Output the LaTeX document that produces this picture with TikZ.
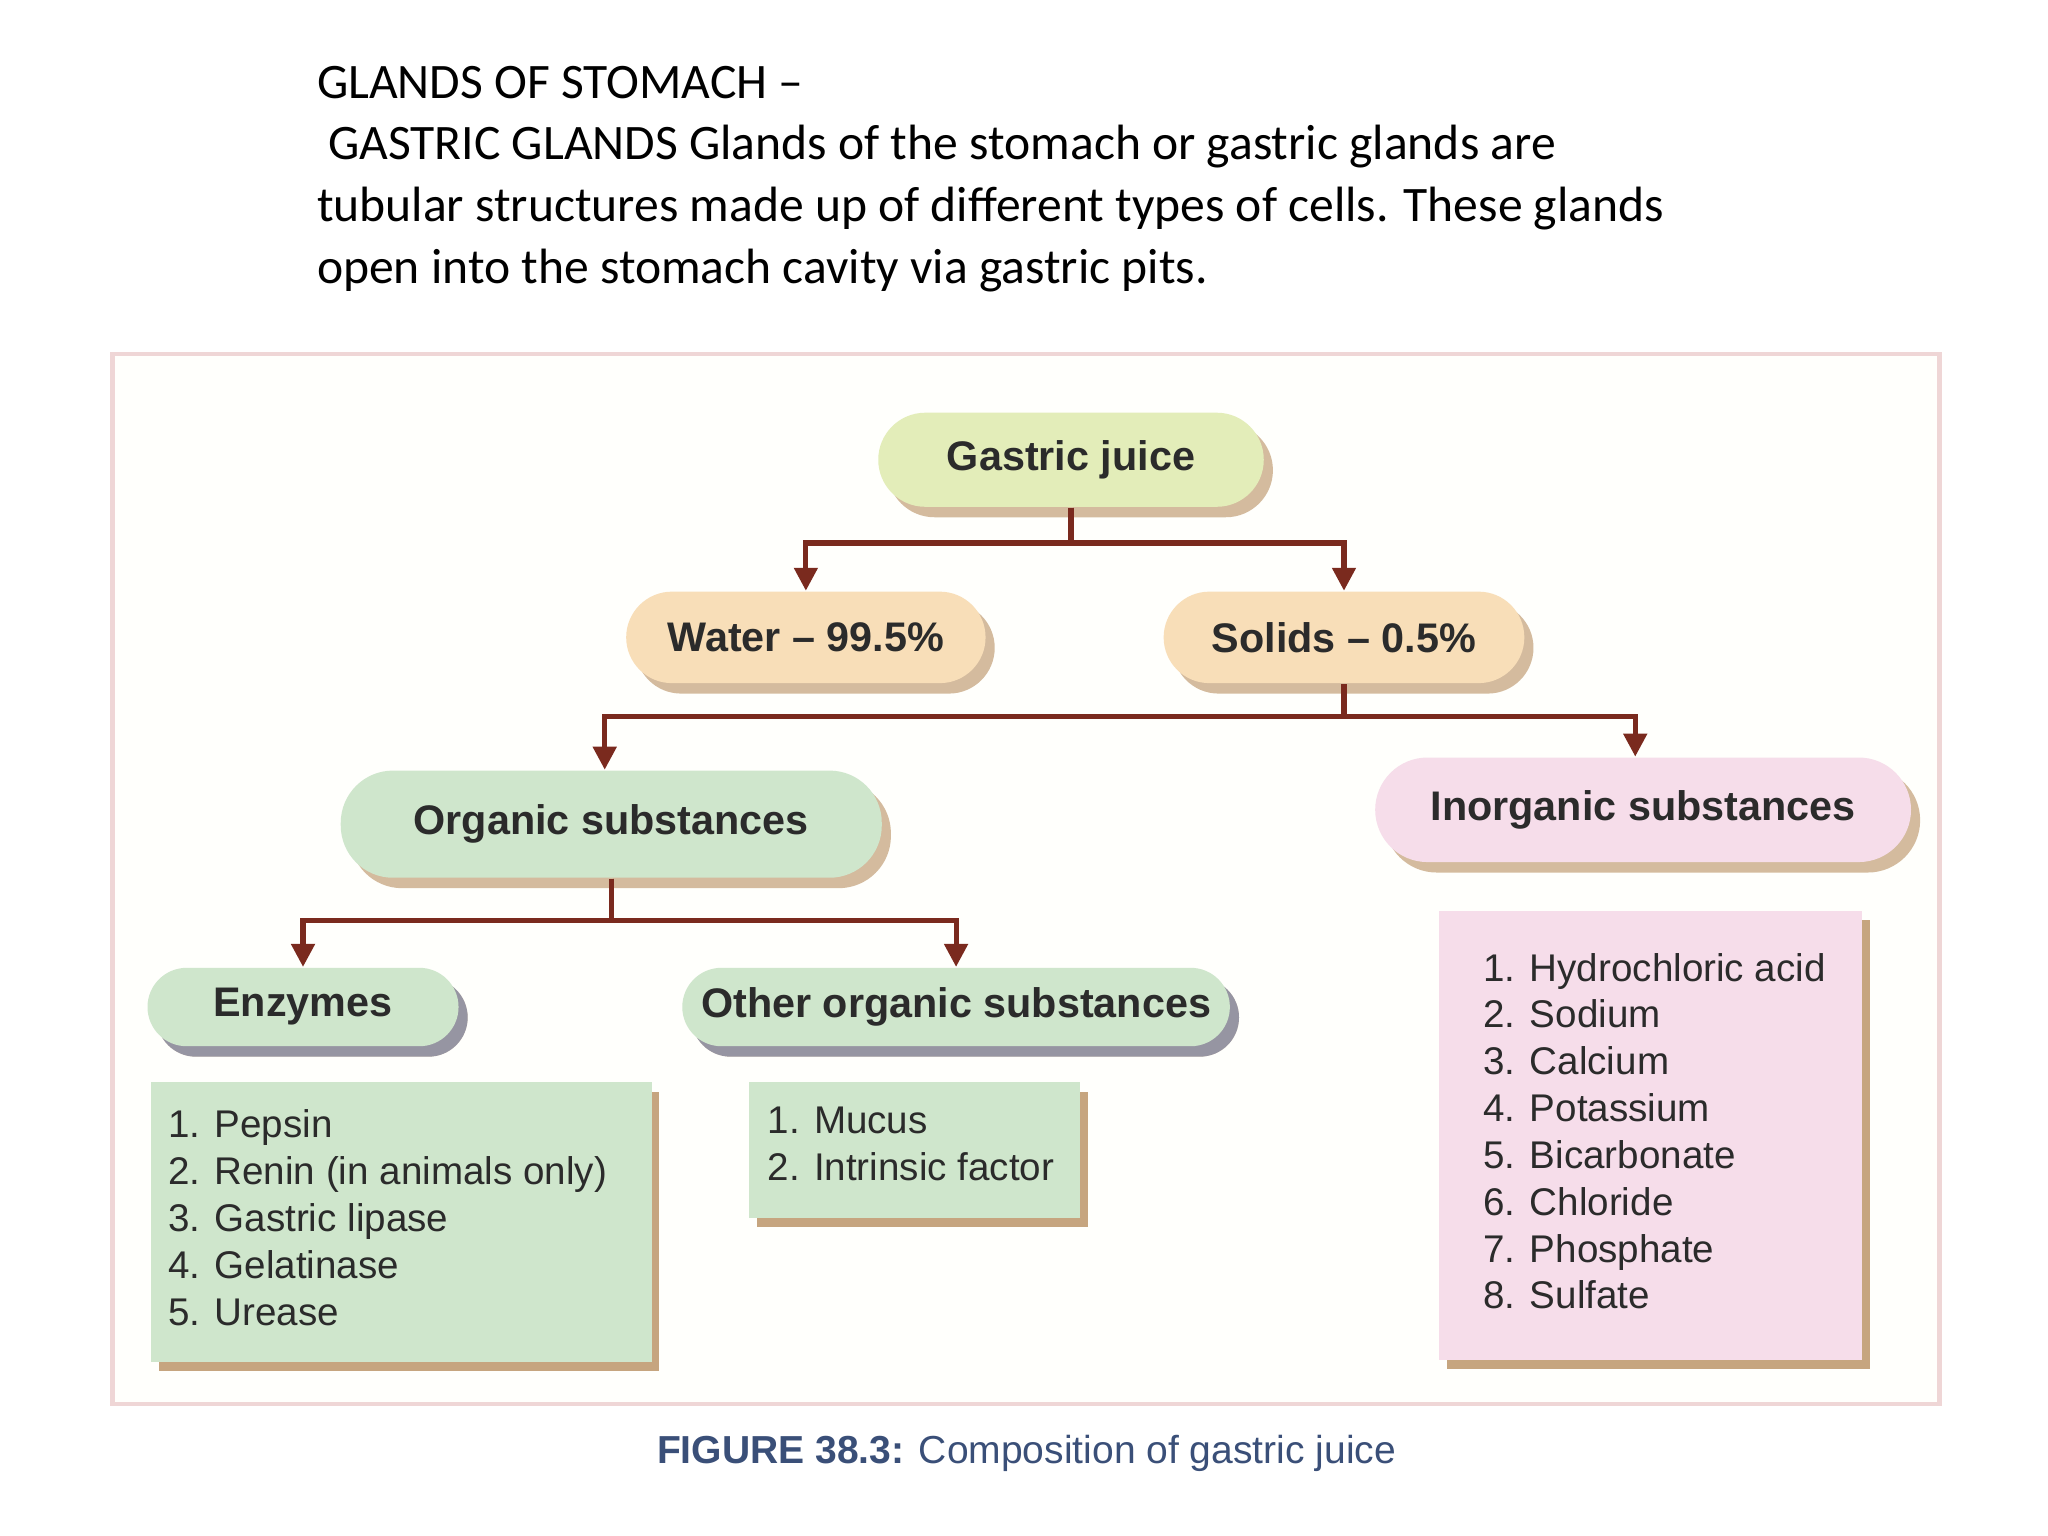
\documentclass[tikz,border=0pt]{standalone}
\usepackage{fontspec}
\setmainfont{Liberation Sans}
\newfontfamily\titlefont{Carlito}
\usetikzlibrary{shadows,arrows.meta}

\definecolor{linkred}{HTML}{7A2A1E}
\definecolor{juicegreen}{HTML}{E3EDB9}
\definecolor{sandfill}{HTML}{F8DEB8}
\definecolor{leafgreen}{HTML}{CFE6CC}
\definecolor{rosefill}{HTML}{F6DDEA}
\definecolor{shadebrown}{HTML}{B88F60}
\definecolor{shadeblue}{HTML}{6E7DA6}
\definecolor{framepink}{HTML}{EFD6D6}
\definecolor{capblue}{HTML}{3A4F78}
\definecolor{inktext}{HTML}{2B2B2B}

\begin{document}
\begin{tikzpicture}[x=0.01cm, y=-0.01cm,
	pill/.style={rounded corners=#1, font=\bfseries\fontsize{9}{11}\selectfont, text=inktext,
		drop shadow={shadow xshift=0.7mm, shadow yshift=-0.8mm, fill=shadebrown, opacity=.6}},
	bluepill/.style={pill=#1, drop shadow={shadow xshift=0.7mm, shadow yshift=-0.8mm, fill=shadeblue, opacity=.6}},
	listbox/.style={fill=#1, align=left, anchor=north west, inner sep=0pt, text=inktext,
		font=\fontsize{8.6}{10.2}\selectfont,
		drop shadow={shadow xshift=0.6mm, shadow yshift=-0.7mm, fill=shadebrown, opacity=.8}},
	link/.style={draw=linkred, line width=1.1pt, -{Triangle[length=5pt, width=5pt]}}]

	\useasboundingbox (0,0) rectangle (1568,1176);

	% heading
	\node[anchor=north west, align=left, inner sep=0pt, font=\titlefont\fontsize{10.8}{13.4}\selectfont]
		(title) at (242,50) {GLANDS OF STOMACH –\\
		\ GASTRIC GLANDS Glands of the stomach or gastric glands are\\
		tubular structures made up of different types of cells. These glands\\
		open into the stomach cavity via gastric pits.};

	% figure frame
	\draw[framepink, fill=white!99!yellow, line width=1pt] (86,271) rectangle (1485,1075);

	% boxes
	\node[pill=3.6mm, fill=juicegreen, minimum width=2.95cm, minimum height=0.72cm] (juice) at (820,352) {Gastric juice};
	\node[pill=3.5mm, fill=sandfill, minimum width=2.75cm, minimum height=0.70cm] (water) at (617,488) {Water -- 99.5\%};
	\node[pill=3.5mm, fill=sandfill, minimum width=2.76cm, minimum height=0.70cm] (solids) at (1029,488) {Solids -- 0.5\%};
	\node[pill=4mm, fill=leafgreen, minimum width=4.14cm, minimum height=0.82cm] (organic) at (468,631) {Organic substances};
	\node[pill=4mm, fill=rosefill, minimum width=4.10cm, minimum height=0.80cm] (inorganic) at (1258,620) {Inorganic substances};
	\node[bluepill=3mm, fill=leafgreen, minimum width=2.38cm, minimum height=0.60cm] (enzymes) at (232,771) {Enzymes};
	\node[bluepill=3mm, fill=leafgreen, minimum width=4.19cm, minimum height=0.60cm] (otherorg) at (732,771) {Other organic substances};

	% lists
	\node[listbox=leafgreen, minimum width=3.83cm, minimum height=2.14cm] (enzlist) at (115,828) {};
	\node[anchor=north west, align=left, inner sep=0pt, text=inktext, font=\fontsize{8.4}{10.2}\selectfont]
		(enzitems) at (128,849) {1. Pepsin\\2. Renin (in animals only)\\3. Gastric lipase\\4. Gelatinase\\5. Urease};
	\node[listbox=leafgreen, minimum width=2.53cm, minimum height=1.04cm] (otherlist) at (573,828) {};
	\node[anchor=north west, align=left, inner sep=0pt, text=inktext, font=\fontsize{8.4}{10.2}\selectfont]
		(otheritems) at (587,847) {1. Mucus\\2. Intrinsic factor};
	\node[listbox=rosefill, minimum width=3.24cm, minimum height=3.43cm] (inorglist) at (1101,697) {};
	\node[anchor=north west, align=left, inner sep=0pt, text=inktext, font=\fontsize{8.4}{10.2}\selectfont]
		(inorgitems) at (1135,729) {1. Hydrochloric acid\\2. Sodium\\3. Calcium\\4. Potassium\\5. Bicarbonate\\6. Chloride\\7. Phosphate\\8. Sulfate};

	% connectors
	\draw[link] (juice.south) -- ++(0,27) -| (water.north);
	\draw[link] (juice.south) -- ++(0,27) -| (solids.north);
	\draw[link] (solids.south) -- ++(0,25) -| ([xshift=-0.05cm]organic.north);
	\draw[link] (solids.south) -- ++(0,25) -| ([xshift=-0.06cm]inorganic.north);
	\draw[link] (organic.south) -- ++(0,32) -| (enzymes.north);
	\draw[link] (organic.south) -- ++(0,32) -| (otherorg.north);

	% caption
	\node[font=\fontsize{8.5}{11}\selectfont, text=capblue] (caption) at (786,1113)
		{\textbf{FIGURE 38.3:} Composition of gastric juice};
\end{tikzpicture}
\end{document}
